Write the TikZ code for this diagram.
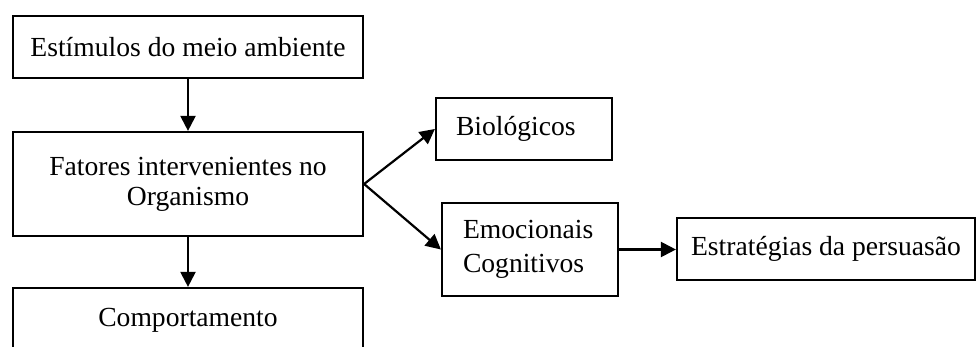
\documentclass[tikz,border=0pt]{standalone}
\usepackage{fontspec}
\setmainfont{Liberation Serif}
\usetikzlibrary{arrows.meta}
\begin{document}
\begin{tikzpicture}[x=1pt,y=-1pt,
  box/.style={draw,line width=2.2pt,rectangle,inner sep=0pt,
    font=\fontsize{27.6}{30}\selectfont},
  link/.style={line width=2.2pt,-{Triangle[length=15pt,width=15pt]}}]
\useasboundingbox (0,0) rectangle (976,347);
\clip (0,0) rectangle (976,347);

% left column
\node[box,minimum width=350pt,minimum height=62pt] (stim) at (188,47)
  {Estímulos do meio ambiente};
\node[box,minimum width=350pt,minimum height=104pt,align=center] (fat) at (188,184)
  {\raisebox{5pt}{Fatores intervenientes no}\\\raisebox{5pt}{Organismo}};
\node[box,minimum width=350pt,minimum height=64pt] (comp) at (188,320)
  {Comportamento};

% right branch
\node[box,minimum width=176pt,minimum height=62pt,text width=136pt,align=left] (bio) at (524,129)
  {Biológicos};
\node[box,minimum width=176pt,minimum height=93pt,text width=134pt,align=left,
  font=\fontsize{27.6}{34}\selectfont] (emo) at (530,249.5)
  {Emocionais\\Cognitivos\\[2pt]};
\node[box,minimum width=298pt,minimum height=62pt] (est) at (826,249)
  {Estratégias da persuasão};

% connectors
\draw[link] (stim.south) -- (fat.north);
\draw[link] (fat.south) -- (comp.north);
\draw[link] (fat.east) -- (bio.west);
\draw[link] (fat.east) -- (emo.west);
\draw[link] (emo.east) -- (emo.east -| est.west);
\end{tikzpicture}
\end{document}
